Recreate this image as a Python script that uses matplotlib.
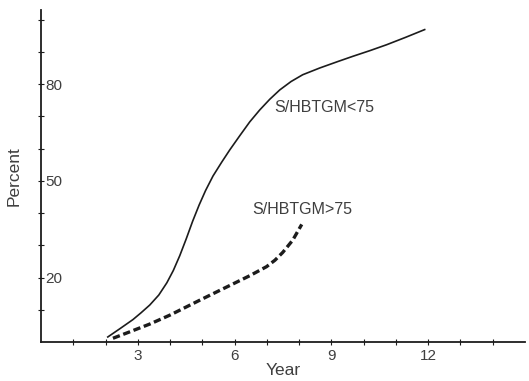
import numpy as np
import matplotlib.pyplot as plt

# curve readings (year, percent)
low_years = [2.07, 2.45, 2.85, 3.10, 3.37, 3.65, 3.90, 4.10, 4.30, 4.50, 4.70, 4.90, 5.10,
             5.33, 5.60, 5.85, 6.16, 6.47, 6.78, 7.09, 7.40, 7.75, 8.11, 8.64, 9.20, 9.66,
             10.20, 10.71, 11.30, 11.89]
low_pct = [1.6, 4.2, 7.0, 9.1, 11.5, 14.6, 18.4, 22.2, 26.8, 32.0, 37.5, 42.5, 47.0,
           51.5, 55.8, 59.6, 64.0, 68.3, 72.0, 75.3, 78.2, 80.8, 82.9, 85.0, 87.0, 88.6,
           90.4, 92.2, 94.5, 96.9]

high_years = [2.23, 2.70, 3.37, 4.00, 4.40, 4.92, 5.45, 5.94, 6.47, 6.99, 7.25, 7.49, 7.80, 8.08]
high_pct = [1.2, 3.0, 5.6, 8.4, 10.4, 13.0, 15.6, 18.0, 20.6, 23.4, 25.4, 27.8, 31.6, 36.5]

x_labels = [3, 6, 9, 12]
y_labels = [20, 50, 80]

plt.rcParams['font.family'] = ['Liberation Sans', 'DejaVu Sans']
ink = '#1c1c1c'
txt = '#3f3f3f'

fig = plt.figure(figsize=(5.29, 3.81), dpi=100)
ax = fig.add_axes([0.0775, 0.102, 0.915, 0.872])

ax.plot(low_years, low_pct, color=ink, lw=1.2, solid_joinstyle='round')
ax.plot(high_years, high_pct, color=ink, lw=2.4, linestyle=(0, (2.2, 1.1)))

ax.text(7.24, 72.7, 'S/HBTGM<75', fontsize=11.5, color=txt, va='center')
ax.text(6.56, 41.0, 'S/HBTGM>75', fontsize=11.5, color=txt, va='center')

ax.set_xlim(0, 15)
ax.set_ylim(0, 103)
for s in ['top', 'right']:
    ax.spines[s].set_visible(False)
for s in ['left', 'bottom']:
    ax.spines[s].set_linewidth(1.3)
    ax.spines[s].set_color(ink)

ax.set_xticks(np.arange(1, 15))
ax.set_xticklabels([str(v) if v in x_labels else '' for v in range(1, 15)])
ax.set_yticks(np.arange(10, 101, 10))
ax.set_yticklabels([str(v) if v in y_labels else '' for v in range(10, 101, 10)])
ax.tick_params(axis='both', direction='inout', length=4, width=0.8, color=ink,
               labelsize=11, labelcolor=txt)
ax.tick_params(axis='y', pad=-5)
for lbl in ax.get_yticklabels():
    lbl.set_horizontalalignment('left')
ax.tick_params(axis='x', pad=3)

ax.set_xlabel('Year', fontsize=12.5, color=txt, labelpad=0)
ax.set_ylabel('Percent', fontsize=12.5, color=txt, labelpad=12)

fig.savefig('out.png', dpi=100)
